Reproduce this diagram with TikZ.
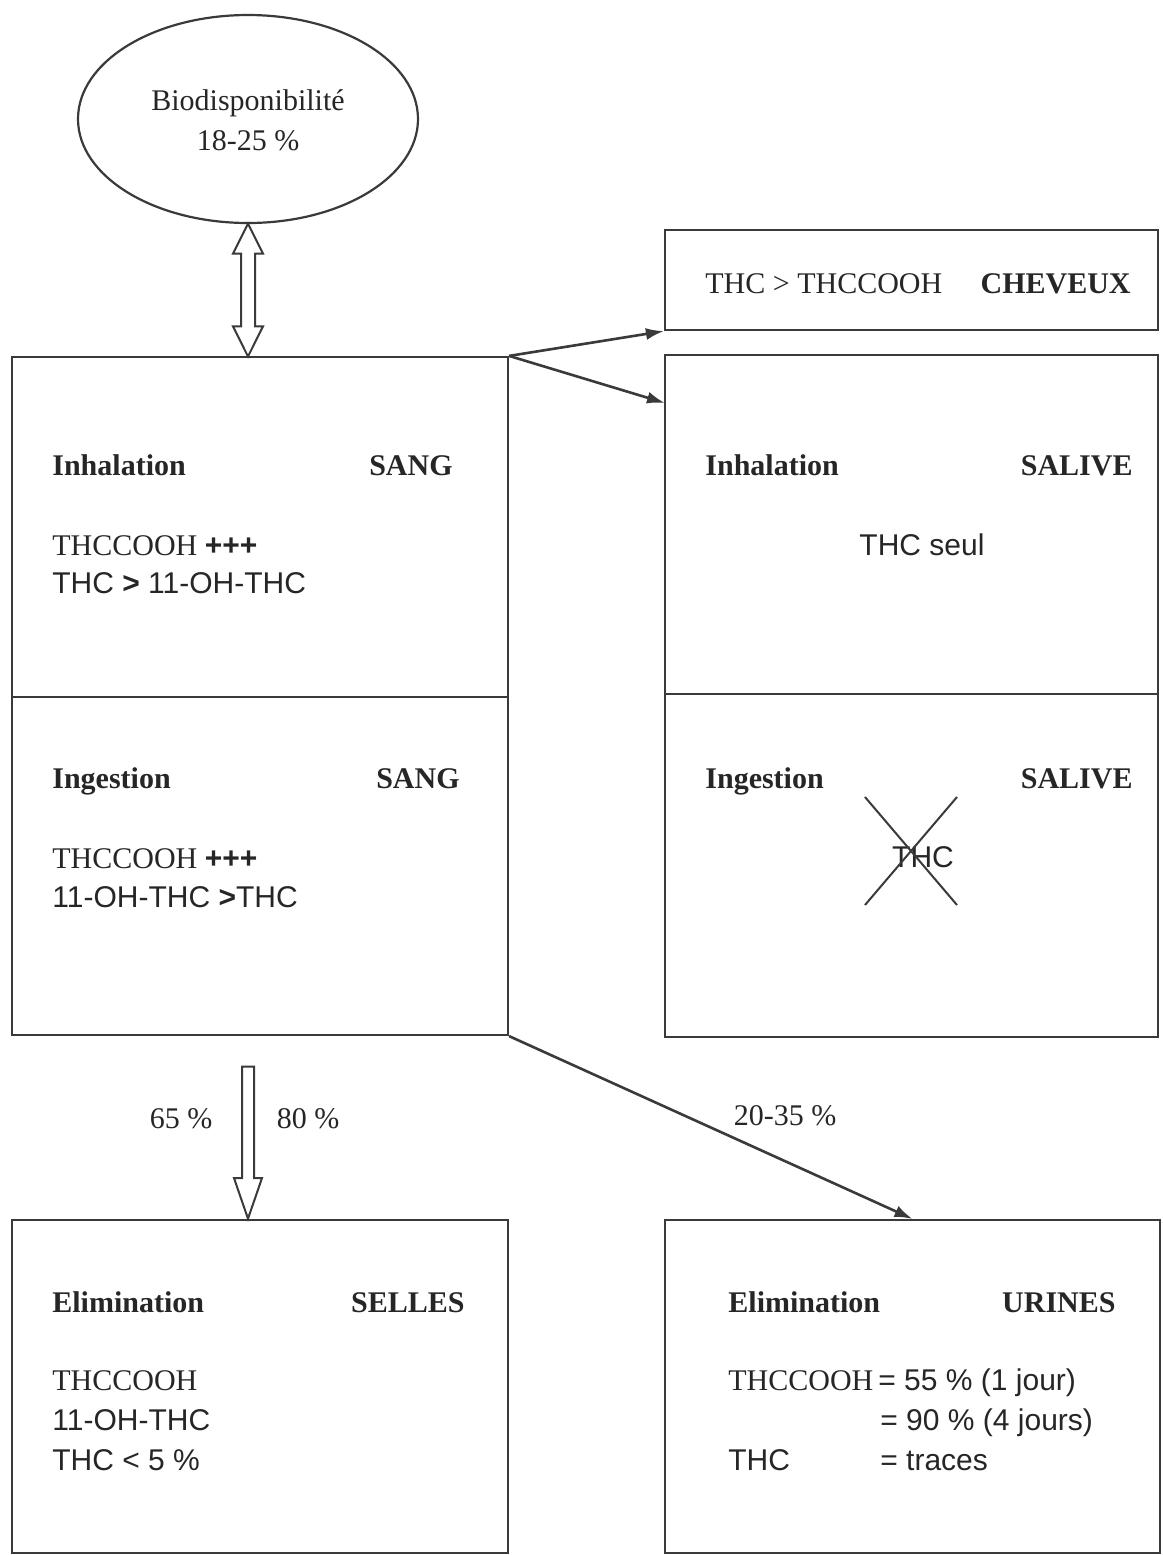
\documentclass[tikz,border=0pt]{standalone}
\usepackage{fontspec}
\setmainfont{Liberation Serif}
\setsansfont{Liberation Sans}
\usetikzlibrary{shapes.geometric,shapes.arrows,arrows.meta,calc}
\definecolor{linec}{HTML}{3A3A3A}
\definecolor{txtc}{HTML}{262626}
\begin{document}
\begin{tikzpicture}[x=0.5pt,y=-0.5pt,
  box/.style={draw=linec,line width=1.1pt,rectangle,inner sep=0pt},
  hd/.style={inner sep=0pt,text height=10pt,text depth=0pt,font=\fontsize{15}{18}\selectfont\bfseries,text=txtc},
  sr/.style={inner sep=0pt,text height=10pt,text depth=0pt,font=\fontsize{15}{18}\selectfont,text=txtc},
  sa/.style={inner sep=0pt,text height=10pt,text depth=0pt,font=\fontsize{15}{18}\selectfont\sffamily,text=txtc},
  conn/.style={draw=linec,line width=1.3pt,-{Latex[length=9pt,width=6pt]}},
  hollow/.style={draw=linec,line width=1pt,fill=white}
]
\useasboundingbox[fill=white] (0,0) rectangle (1163,1555);

% ellipse
\node[box,ellipse,minimum width=170pt,minimum height=104pt] (ell) at (248,119) {};
\node[sr] (bio1) at (248,100) {Biodisponibilité};
\node[sr] (bio2) at (248,140) {18-25 \%};

% boxes
\node[box,minimum width=248pt,minimum height=170pt] (sangI) at (260,527) {};
\node[box,minimum width=248pt,minimum height=169pt] (sangG) at (260,866) {};
\node[box,minimum width=246.5pt,minimum height=50pt] (chev) at (911.5,280) {};
\node[box,minimum width=246.5pt,minimum height=169.5pt] (salI) at (911.5,524.5) {};
\node[box,minimum width=246.5pt,minimum height=171.5pt] (salG) at (911.5,865.5) {};
\node[box,minimum width=248pt,minimum height=166.5pt] (selles) at (260,1386.5) {};
\node[box,minimum width=247.5pt,minimum height=166.5pt] (urines) at (912.5,1386.5) {};

% hollow arrows
\node[hollow,double arrow,rotate=90,inner sep=3pt,double arrow head extend=4pt,
      double arrow tip angle=53,double arrow head indent=0pt,minimum height=66.5pt]
      (dbl) at ($(ell.south)!0.5!(ell.south |- sangI.north)$) {};
\node[hollow,single arrow,rotate=-90,inner sep=2.5pt,single arrow head extend=4pt,
      single arrow tip angle=38,single arrow head indent=0pt,minimum height=76pt]
      (down) at (248,1134) {};

% connectors
\coordinate (salTgt) at (665,403);
\draw[conn] (sangI.north east) -- (chev.south west);
\draw[conn] (sangI.north east) -- (salTgt);
\draw[conn] (sangG.south east) -- (urines.north);

% SANG inhalation
\node[hd,anchor=west] (t1) at (52,465) {Inhalation};
\node[hd,anchor=east] (t2) at (453,465) {SANG};
\node[sr,anchor=west] (t3) at (52,545) {THCCOOH {\sffamily\bfseries +++}};
\node[sa,anchor=west] (t4) at (52,583) {THC \textbf{>} 11-OH-THC};
% SANG ingestion
\node[hd,anchor=west] (t5) at (52,778) {Ingestion};
\node[hd,anchor=east] (t6) at (460,778) {SANG};
\node[sr,anchor=west] (t7) at (52,858) {THCCOOH {\sffamily\bfseries +++}};
\node[sa,anchor=west] (t8) at (52,897) {11-OH-THC \textbf{>}THC};

% CHEVEUX
\node[sr,anchor=west] (c1) at (705,283) {THC > THCCOOH};
\node[hd,anchor=east] (c2) at (1131,283) {CHEVEUX};

% SALIVE inhalation
\node[hd,anchor=west] (s1) at (705,465) {Inhalation};
\node[hd,anchor=east] (s2) at (1133,465) {SALIVE};
\node[sa] (s3) at (922,545) {THC seul};
% SALIVE ingestion
\node[hd,anchor=west] (s4) at (705,778) {Ingestion};
\node[hd,anchor=east] (s5) at (1133,778) {SALIVE};
\node[sa] (s6) at (923,857) {THC};
\draw[linec,line width=1pt] (865,797) -- (957,905) (957,797) -- (865,905);

% flow labels
\node[sr] (p1) at (181,1118) {65 \%};
\node[sr] (p2) at (308,1118) {80 \%};
\node[sr] (p3) at (785,1115) {20-35 \%};

% SELLES
\node[hd,anchor=west] (e1) at (52,1302) {Elimination};
\node[hd,anchor=east] (e2) at (465,1302) {SELLES};
\node[sr,anchor=west] (e3) at (52,1380) {THCCOOH};
\node[sa,anchor=west] (e4) at (52,1420) {11-OH-THC};
\node[sa,anchor=west] (e5) at (52,1460) {THC < 5 \%};

% URINES
\node[hd,anchor=west] (u1) at (728,1302) {Elimination};
\node[hd,anchor=east] (u2) at (1116,1302) {URINES};
\node[sr,anchor=west] (u3) at (728,1380) {THCCOOH};
\node[sa,anchor=west] (u4) at (878,1380) {= 55 \% (1 jour)};
\node[sa,anchor=west] (u5) at (880,1420) {= 90 \% (4 jours)};
\node[sa,anchor=west] (u6) at (728,1460) {THC};
\node[sa,anchor=west] (u7) at (880,1460) {= traces};
\end{tikzpicture}
\end{document}
